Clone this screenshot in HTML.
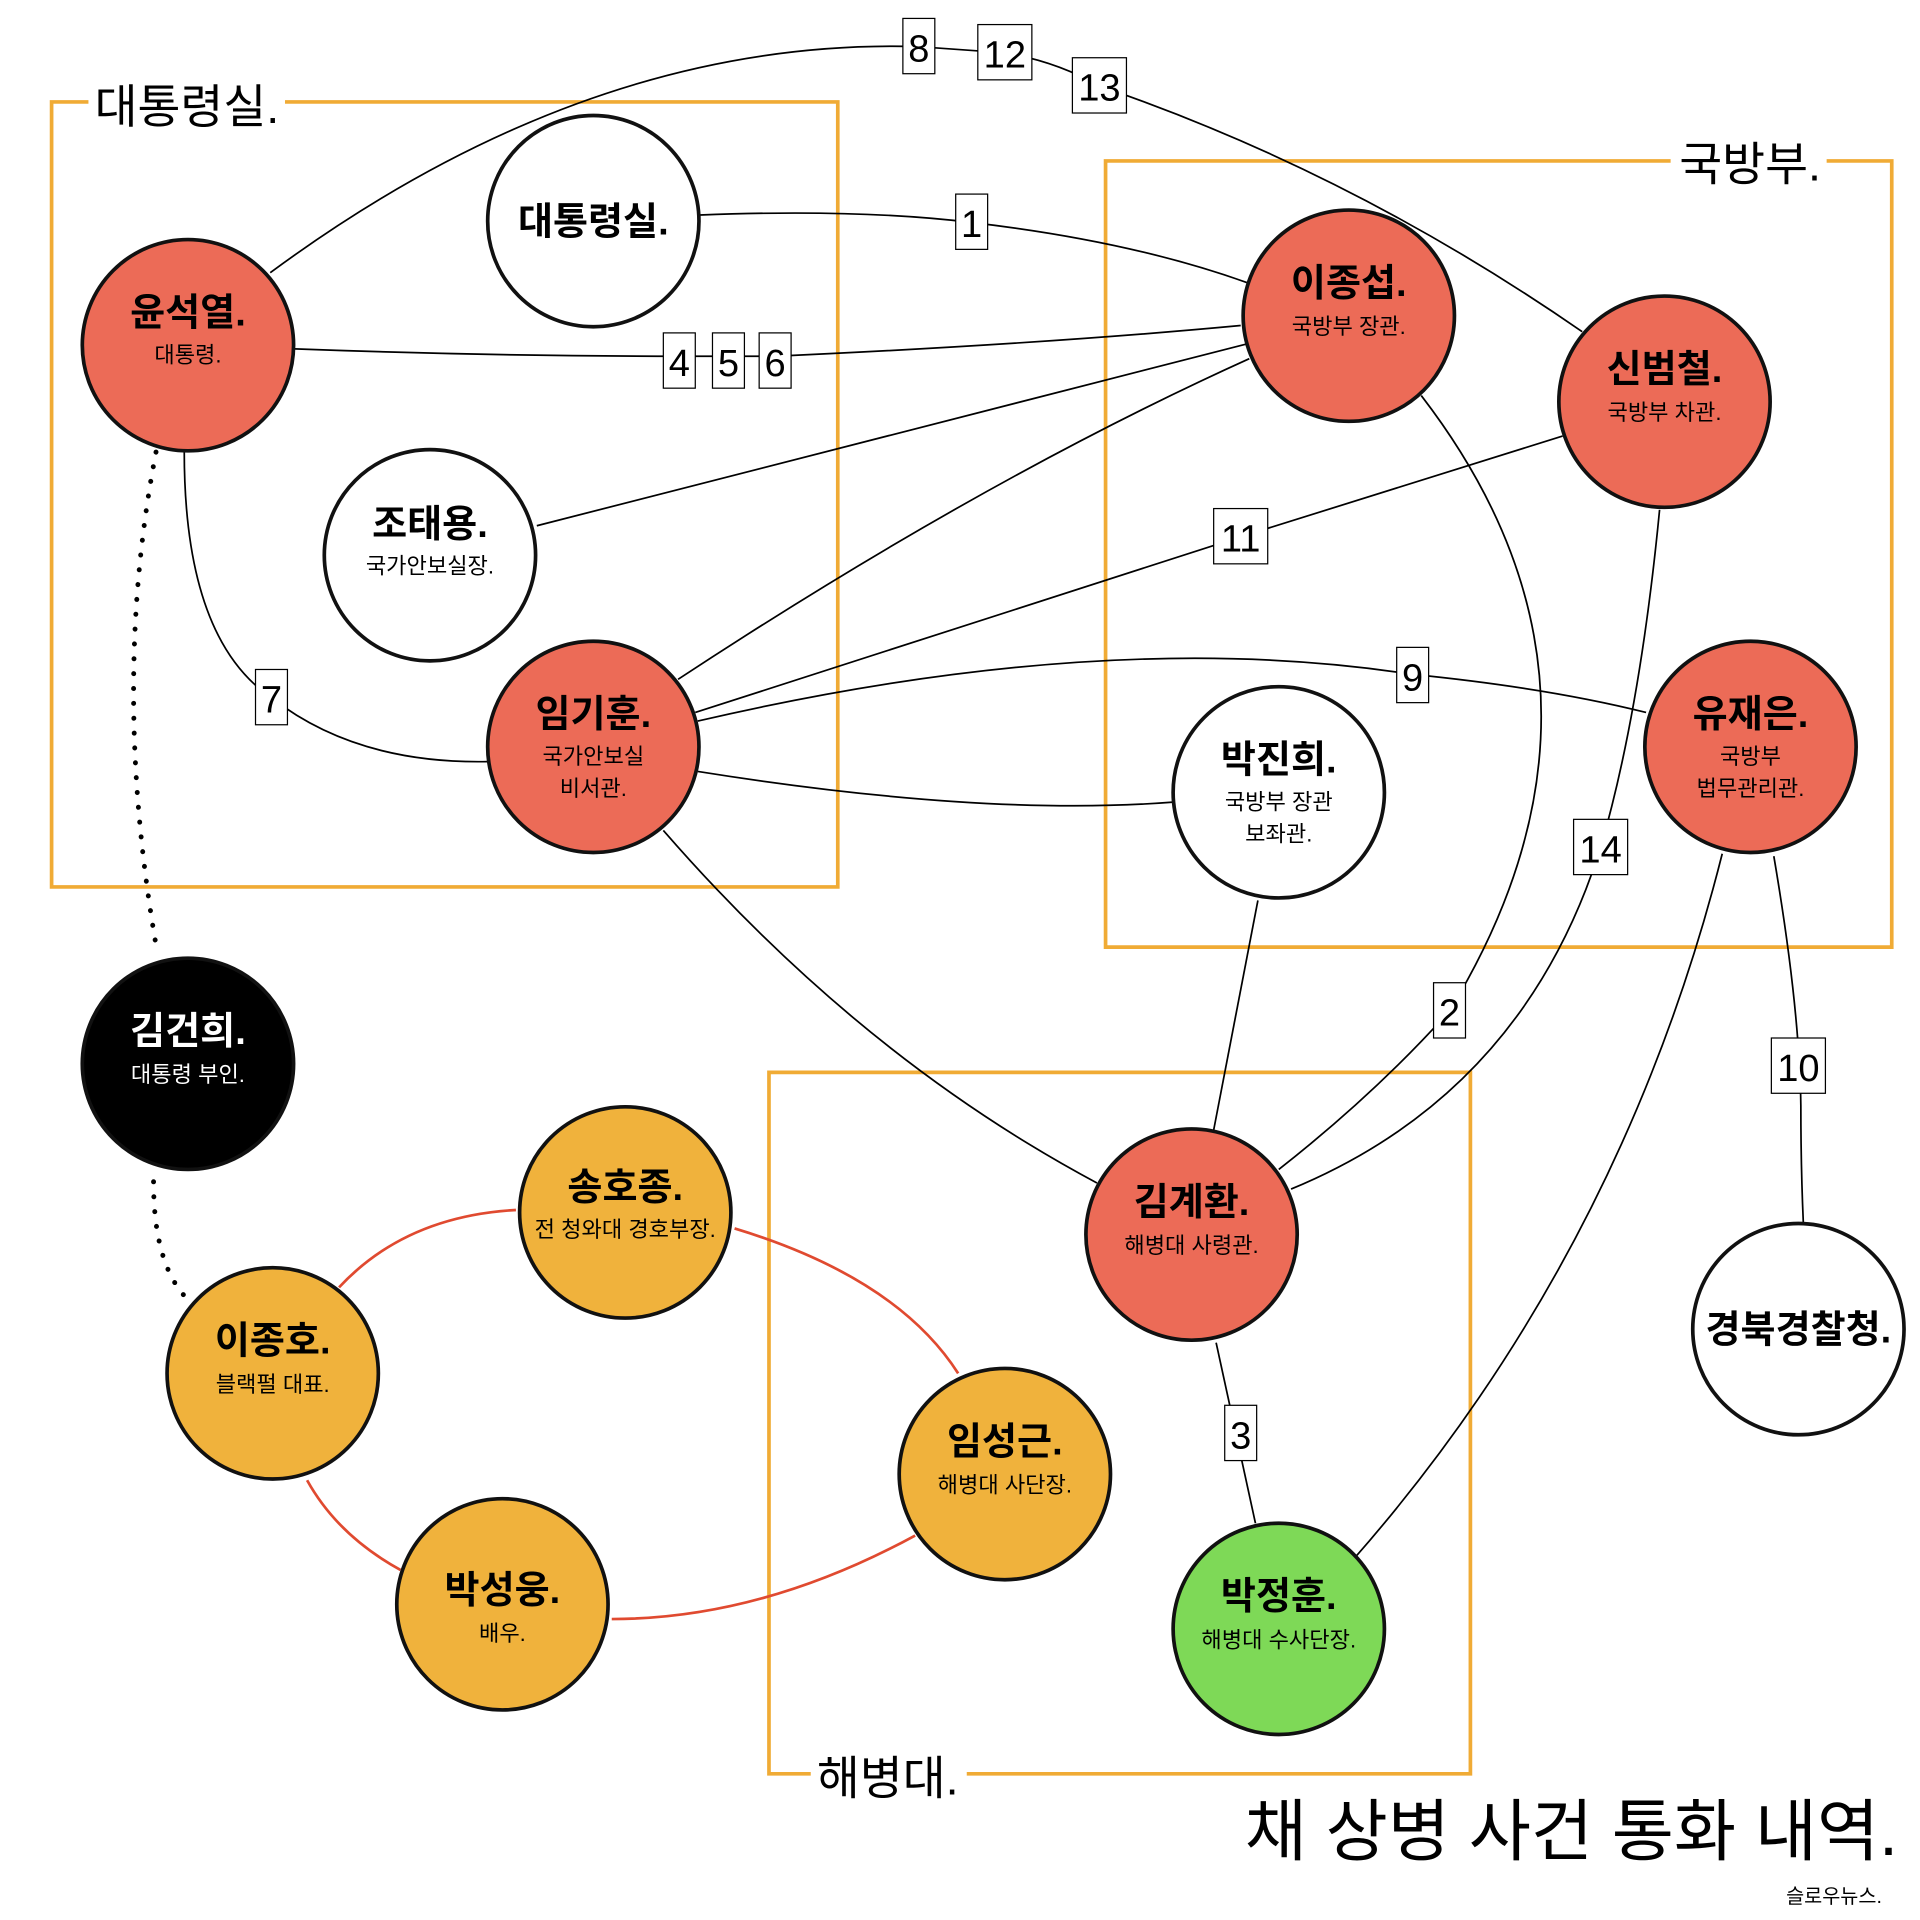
<!DOCTYPE html>
<html><head><meta charset="utf-8"><style>
html,body{margin:0;padding:0;background:#fff}
svg{display:block}
text{font-family:"Liberation Sans","Noto Sans CJK KR",sans-serif}
.n{font-weight:bold;font-size:31px;text-anchor:middle}
.s{font-size:18px;text-anchor:middle}
.l{fill:none;stroke:#000;stroke-width:1.4}
.r{fill:none;stroke:#e04a30;stroke-width:2.2}
.b{fill:none;stroke:#f0ab35;stroke-width:3}
.c{stroke:#111;stroke-width:3}
.nb{fill:#fff;stroke:#000;stroke-width:1}
.nt{font-size:31px;text-anchor:middle}
</style></head><body>
<svg width="1920" height="1920" viewBox="0 0 1563 1563" xmlns="http://www.w3.org/2000/svg">
<path class="b" d="M72 83 H42 V722 H682 V83 H232"/>
<path class="b" d="M1360 131 H900 V771 H1540 V131 H1487"/>
<path class="b" d="M660 1444 H626 V873 H1197 V1444 H787"/>
<text x="77" y="100" font-size="38">대통령실.</text>
<text x="1367" y="147" font-size="38">국방부.</text>
<text x="665" y="1461" font-size="38">해병대.</text>
<path class="l" d="M570 175 Q700 170 790 181 Q920 196 1015 230"/>
<path class="l" d="M240 284 Q400 290 553 290 L631 290 Q850 280 1010 265"/>
<path class="l" d="M220 222 Q480 30 748 38 L818 43 Q860 50 895 70 Q1100 140 1288 270"/>
<path class="l" d="M150 368 Q150 520 221 568 Q290 622 397 620"/>
<path class="l" d="M437 428 L1015 280"/>
<path class="l" d="M552 553 Q800 390 1017 292"/>
<path class="l" d="M566 580 L1010 437 L1272 355"/>
<path class="l" d="M568 587 Q900 510 1150 549 Q1260 560 1340 580"/>
<path class="l" d="M568 628 Q800 665 955 653"/>
<path class="l" d="M540 676 Q700 860 893 963"/>
<path class="l" d="M1157 322 Q1340 560 1180 823 Q1120 890 1041 952"/>
<path class="l" d="M1351 415 Q1335 580 1303 690 Q1240 890 1051 968"/>
<path class="l" d="M1024 733 L988 920"/>
<path class="l" d="M990 1093 L1022 1240"/>
<path class="l" d="M1402 695 Q1320 1020 1103 1268"/>
<path class="l" d="M1444 697 Q1465 820 1466 900 Q1466 950 1468 995"/>
<path d="M127 368 Q90 560 128 775" fill="none" stroke="#000" stroke-width="4" stroke-dasharray="0.1 12" stroke-linecap="round"/>
<path d="M125 962 Q125 1030 153 1058" fill="none" stroke="#000" stroke-width="4" stroke-dasharray="0.1 12" stroke-linecap="round"/>
<path class="r" d="M276 1048 Q330 990 420 985"/>
<path class="r" d="M598 1000 Q730 1040 780 1118"/>
<path class="r" d="M745 1250 Q620 1318 498 1318"/>
<path class="r" d="M326 1278 Q275 1250 250 1205"/>
<g>
<rect class="nb" x="778" y="158" width="26" height="45"/><text class="nt" x="791" y="193">1</text>
<rect class="nb" x="540" y="271" width="26" height="45"/><text class="nt" x="553" y="306">4</text>
<rect class="nb" x="580" y="271" width="26" height="45"/><text class="nt" x="593" y="306">5</text>
<rect class="nb" x="618" y="271" width="26" height="45"/><text class="nt" x="631" y="306">6</text>
<rect class="nb" x="735" y="15" width="26" height="45"/><text class="nt" x="748" y="50">8</text>
<rect class="nb" x="796" y="20" width="44" height="45"/><text class="nt" x="818" y="55">12</text>
<rect class="nb" x="873" y="47" width="44" height="45"/><text class="nt" x="895" y="82">13</text>
<rect class="nb" x="208" y="545" width="26" height="45"/><text class="nt" x="221" y="580">7</text>
<rect class="nb" x="988" y="414" width="44" height="45"/><text class="nt" x="1010" y="449">11</text>
<rect class="nb" x="1137" y="527" width="26" height="45"/><text class="nt" x="1150" y="562">9</text>
<rect class="nb" x="1281" y="667" width="44" height="45"/><text class="nt" x="1303" y="702">14</text>
<rect class="nb" x="1167" y="800" width="26" height="45"/><text class="nt" x="1180" y="835">2</text>
<rect class="nb" x="997" y="1144" width="26" height="45"/><text class="nt" x="1010" y="1179">3</text>
<rect class="nb" x="1442" y="845" width="44" height="45"/><text class="nt" x="1464" y="880">10</text>
</g>
<circle class="c" cx="153" cy="281" r="86" fill="#ec6b57"/>
<text class="n" x="153" y="265">윤석열.</text><text class="s" x="153" y="295">대통령.</text>
<circle class="c" cx="483" cy="180" r="86" fill="#fff"/>
<text class="n" x="483" y="191">대통령실.</text>
<circle class="c" cx="350" cy="452" r="86" fill="#fff"/>
<text class="n" x="350" y="437">조태용.</text><text class="s" x="350" y="467">국가안보실장.</text>
<circle class="c" cx="483" cy="608" r="86" fill="#ec6b57"/>
<text class="n" x="483" y="592">임기훈.</text><text class="s" x="483" y="622">국가안보실</text><text class="s" x="483" y="648">비서관.</text>
<circle class="c" cx="1098" cy="257" r="86" fill="#ec6b57"/>
<text class="n" x="1098" y="241">이종섭.</text><text class="s" x="1098" y="272">국방부 장관.</text>
<circle class="c" cx="1355" cy="327" r="86" fill="#ec6b57"/>
<text class="n" x="1355" y="311">신범철.</text><text class="s" x="1355" y="342">국방부 차관.</text>
<circle class="c" cx="1041" cy="645" r="86" fill="#fff"/>
<text class="n" x="1041" y="629">박진희.</text><text class="s" x="1041" y="659">국방부 장관</text><text class="s" x="1041" y="685">보좌관.</text>
<circle class="c" cx="1425" cy="608" r="86" fill="#ec6b57"/>
<text class="n" x="1425" y="592">유재은.</text><text class="s" x="1425" y="622">국방부</text><text class="s" x="1425" y="648">법무관리관.</text>
<circle class="c" cx="153" cy="866" r="86" fill="#000"/>
<text class="n" x="153" y="850" fill="#fff">김건희.</text><text class="s" x="153" y="881" fill="#fff">대통령 부인.</text>
<circle class="c" cx="970" cy="1005" r="86" fill="#ec6b57"/>
<text class="n" x="970" y="989">김계환.</text><text class="s" x="970" y="1020">해병대 사령관.</text>
<circle class="c" cx="1464" cy="1082" r="86" fill="#fff"/>
<text class="n" x="1464" y="1093">경북경찰청.</text>
<circle class="c" cx="509" cy="987" r="86" fill="#f0b23c"/>
<text class="n" x="509" y="977">송호종.</text><text class="s" x="509" y="1007">전 청와대 경호부장.</text>
<circle class="c" cx="222" cy="1118" r="86" fill="#f0b23c"/>
<text class="n" x="222" y="1102">이종호.</text><text class="s" x="222" y="1133">블랙펄 대표.</text>
<circle class="c" cx="818" cy="1200" r="86" fill="#f0b23c"/>
<text class="n" x="818" y="1184">임성근.</text><text class="s" x="818" y="1215">해병대 사단장.</text>
<circle class="c" cx="409" cy="1306" r="86" fill="#f0b23c"/>
<text class="n" x="409" y="1305">박성웅.</text><text class="s" x="409" y="1336">배우.</text>
<circle class="c" cx="1041" cy="1326" r="86" fill="#7ed957"/>
<text class="n" x="1041" y="1310">박정훈.</text><text class="s" x="1041" y="1341">해병대 수사단장.</text>
<text x="1545" y="1510" font-size="55" text-anchor="end">채 상병 사건 통화 내역.</text>
<text x="1532" y="1549" font-size="16" text-anchor="end">슬로우뉴스.</text>
</svg>
</body></html>
